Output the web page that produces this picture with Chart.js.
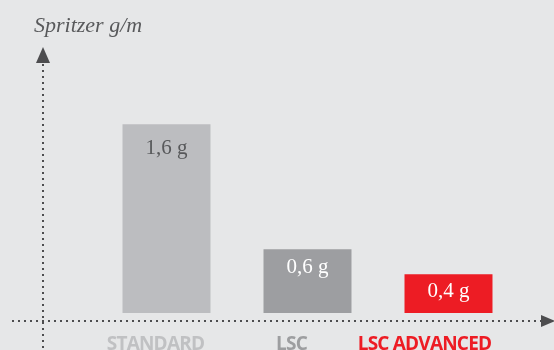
<!DOCTYPE html>
<html>
<head>
<meta charset="utf-8">
<script src="https://cdn.jsdelivr.net/npm/chart.js@4"></script>
<style>
  html, body { margin: 0; padding: 0; background: #e6e7e8; }
  #wrap { width: 554px; height: 350px; }
</style>
</head>
<body>
<div id="wrap"><canvas id="chart" width="554" height="350"></canvas></div>
<script>
'use strict';

// chart data
const categories = ['STANDARD', 'LSC', 'LSC ADVANCED'];
const values = [1.6, 0.6, 0.4];
const valueLabels = ['1,6 g', '0,6 g', '0,4 g'];
const yTitle = 'Spritzer g/m';

const barColors = ['#bcbdc0', '#9d9ea1', '#ed1c24'];
const catColors = ['#c0c1c3', '#9d9ea0', '#ed1c24'];
const valueColors = ['#58595b', '#ffffff', '#ffffff'];
const valueOffsets = [30, 24, 23];
const catShift = [-11, -16, -24];

// axes, arrows, labels
const decorPlugin = {
  id: 'decor',
  beforeDatasetsDraw(chart) {
    const ctx = chart.ctx;
    ctx.save();
    ctx.strokeStyle = '#4d4d4f';
    ctx.lineWidth = 2;
    ctx.setLineDash([2, 4]);
    // y axis
    ctx.beginPath();
    ctx.moveTo(43, 64);
    ctx.lineTo(43, 350);
    ctx.stroke();
    // x axis
    ctx.beginPath();
    ctx.moveTo(12, 321);
    ctx.lineTo(542, 321);
    ctx.stroke();
    ctx.setLineDash([]);
    ctx.fillStyle = '#4d4d4f';
    ctx.beginPath();
    ctx.moveTo(43, 47);
    ctx.lineTo(50, 63);
    ctx.lineTo(36, 63);
    ctx.closePath();
    ctx.fill();
    ctx.beginPath();
    ctx.moveTo(555, 321);
    ctx.lineTo(541, 315);
    ctx.lineTo(541, 327);
    ctx.closePath();
    ctx.fill();
    // title
    ctx.font = 'italic 22px "Liberation Serif"';
    ctx.fillStyle = '#58595b';
    ctx.textAlign = 'left';
    ctx.textBaseline = 'alphabetic';
    ctx.fillText(yTitle, 34, 32);
    ctx.restore();
  },
  afterDatasetsDraw(chart) {
    const ctx = chart.ctx;
    const meta = chart.getDatasetMeta(0);
    ctx.save();
    ctx.textAlign = 'center';
    ctx.textBaseline = 'alphabetic';
    meta.data.forEach((bar, i) => {
      ctx.letterSpacing = '0px';
      ctx.font = '21px "Liberation Serif"';
      ctx.fillStyle = valueColors[i];
      ctx.fillText(valueLabels[i], bar.x, bar.y + valueOffsets[i]);
      ctx.letterSpacing = '-0.8px';
      ctx.font = 'bold 19px "Open Sans"';
      ctx.fillStyle = catColors[i];
      ctx.fillText(categories[i], bar.x + catShift[i], 350);
    });
    ctx.restore();
  }
};

new Chart(document.getElementById('chart'), {
  type: 'bar',
  data: {
    labels: categories,
    datasets: [{
      data: values,
      backgroundColor: barColors,
      borderWidth: 0,
      categoryPercentage: 1,
      barPercentage: 0.624
    }]
  },
  options: {
    responsive: false,
    animation: false,
    layout: { padding: { left: 96, right: 35, top: 60, bottom: 37 } },
    plugins: { legend: { display: false }, tooltip: { enabled: false } },
    scales: {
      x: { display: false },
      y: { display: false, min: 0.09, max: 2.114 }
    }
  },
  plugins: [decorPlugin]
});
</script>
</body>
</html>
